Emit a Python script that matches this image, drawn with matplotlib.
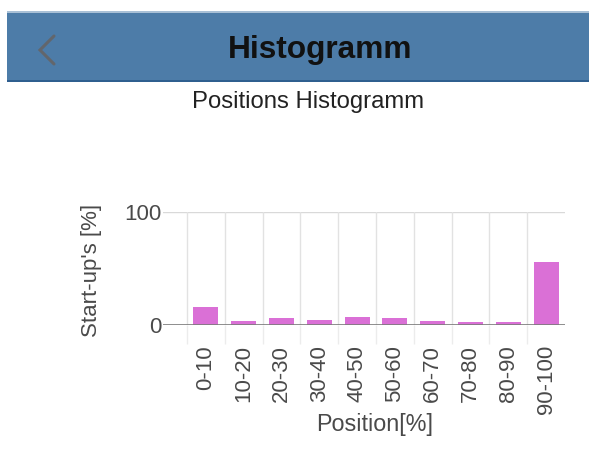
import matplotlib
matplotlib.use("Agg")
import matplotlib.pyplot as plt
from matplotlib.lines import Line2D
from matplotlib.patches import Rectangle

plt.rcParams['font.family'] = ['Liberation Sans', 'DejaVu Sans']

categories = ["0-10", "10-20", "20-30", "30-40", "40-50",
              "50-60", "60-70", "70-80", "80-90", "90-100"]
values = [16, 3.8, 5.9, 4.4, 6.8, 5.9, 3.8, 2.4, 2.4, 56]
y_ticks = [0, 100]

W, H = 589, 474
fig = plt.figure(figsize=(W / 100, H / 100), dpi=100)
fig.patch.set_facecolor("white")

def fx(px):
    return px / W

def fy(py):
    return 1 - py / H

# Header bar
fig.patches.append(Rectangle((fx(7), fy(82)), fx(589 - 7), (82 - 12) / H,
                             transform=fig.transFigure, facecolor="#4d7ca8",
                             edgecolor="none", zorder=0))
fig.patches.append(Rectangle((fx(7), fy(82)), fx(589 - 7), 2.5 / H,
                             transform=fig.transFigure, facecolor="#2f5f8f",
                             edgecolor="none", zorder=1))
fig.patches.append(Rectangle((fx(7), fy(13)), fx(589 - 7), 1.5 / H,
                             transform=fig.transFigure, facecolor="#a9c0d6",
                             edgecolor="none", zorder=1))
fig.lines.append(Line2D([fx(54), fx(40), fx(54)], [fy(36), fy(50), fy(64)],
                        transform=fig.transFigure, color="#62666c", lw=2.2,
                        solid_capstyle="round", solid_joinstyle="miter"))
fig.text(fx(320), fy(50), "Histogramm", ha="center", va="center",
         fontsize=22.8, fontweight="bold", color="#111111")

fig.text(fx(308), fy(102), "Positions Histogramm", ha="center", va="center",
         fontsize=17.2, color="#222222")

# Axes
left_px, right_px = 163, 565
top_px, bot_px = 212, 325
ax = fig.add_axes([fx(left_px), fy(bot_px), (right_px - left_px) / W,
                   (bot_px - top_px) / H])
ax.set_facecolor("none")

step = 37.8
xmin = -0.5 - (187 - left_px) / step
ax.set_xlim(xmin, len(categories) - 0.5)
ax.set_ylim(0, 100)

x = list(range(len(categories)))
ax.bar(x, values, width=0.66, color="#da70d6", zorder=3)

for s in ax.spines.values():
    s.set_visible(False)

ax.axhline(0, color="#7a7a7a", lw=1.2, zorder=4)
ax.axhline(100, color="#d9d9d9", lw=1.0, zorder=1)

bounds = [i - 0.5 for i in range(len(categories))]
for b in bounds:
    ax.plot([b, b], [0, 100], color="#e2e2e2", lw=1.0, zorder=1)
ax.set_xticks(bounds, minor=True)
ax.tick_params(axis="x", which="minor", length=14, width=1.0,
               color="#ececec", direction="out")
ax.set_xticks(x)
ax.set_xticklabels(categories, rotation=90, fontsize=16, color="#4a4a4a")
ax.tick_params(axis="x", which="major", length=0, pad=14.5)
for lbl in ax.get_xticklabels():
    lbl.set_va("top")

ax.set_yticks(y_ticks)
ax.set_yticklabels([str(v) for v in y_ticks], fontsize=16, color="#4a4a4a")
ax.tick_params(axis="y", length=0, pad=1)

fig.text(fx(92), fy(270), "Start-up's [%]", rotation=90, ha="center",
         va="center", fontsize=16, color="#4a4a4a")
fig.text(fx(375), fy(425), "Position[%]", ha="center", va="center",
         fontsize=16.8, color="#4a4a4a")

fig.savefig("out.png", dpi=100)
